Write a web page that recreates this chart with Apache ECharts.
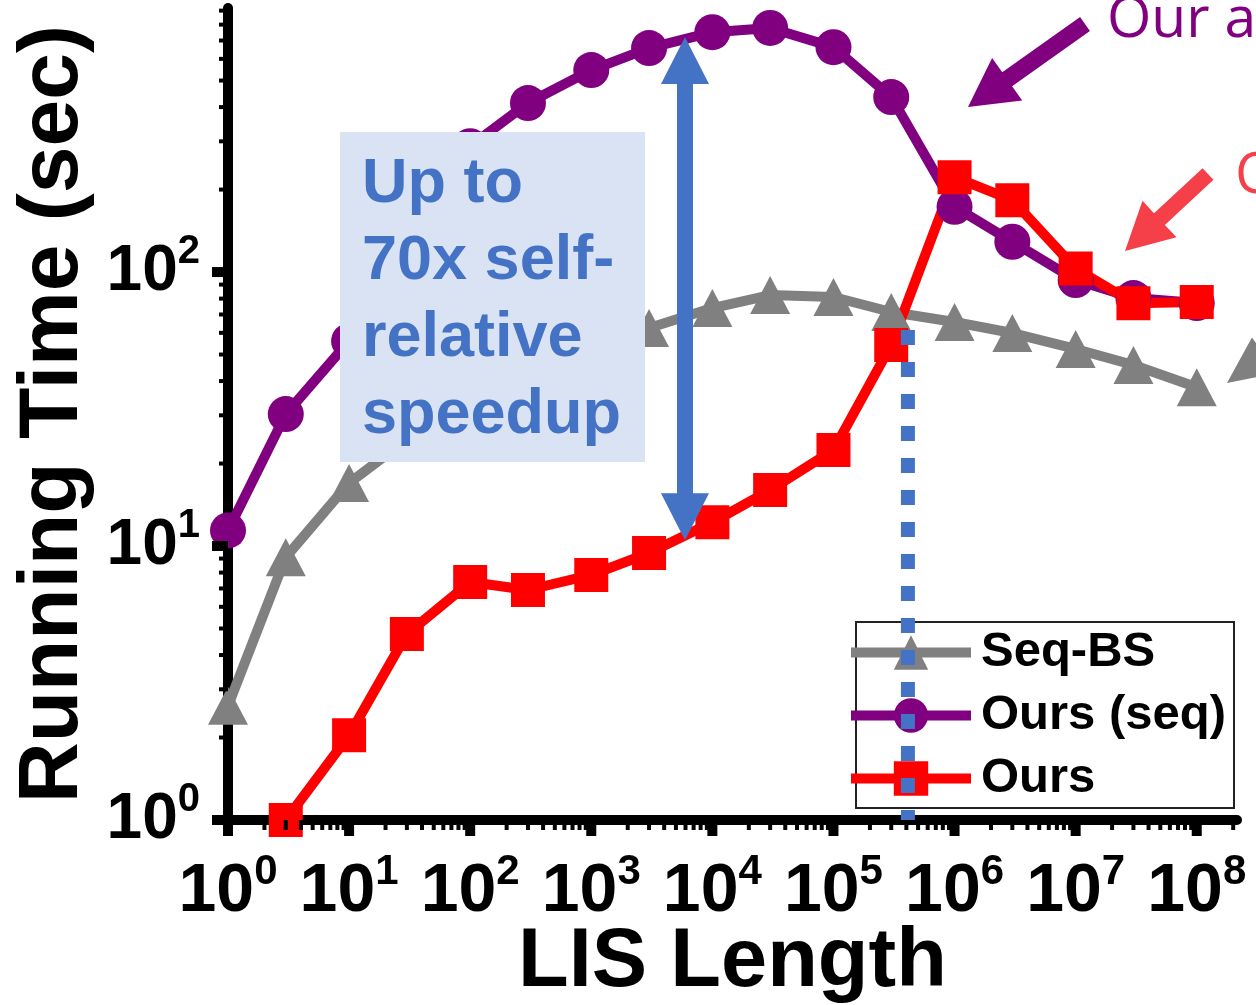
<!DOCTYPE html>
<html><head><meta charset="utf-8">
<script src="https://cdn.jsdelivr.net/npm/echarts@6/dist/echarts.min.js"></script>
<style>html,body{margin:0;padding:0;background:#fff}#chart{width:1256px;height:1005px}</style>
</head><body><div id="chart"></div>
<script>
// ---------------- data ----------------
const lisLength = [1, 3, 10, 30, 100, 300, 1e3, 3e3, 1e4, 3e4, 1e5, 3e5, 1e6, 3e6, 1e7, 3e7, 1e8];
const seqBS   = [2.61, 9.1, 17.0, 24.5, 31, 41, 52, 62.5, 73.9, 82.4, 81.1, 71.5, 65.7, 59.9, 52.4, 45.8, 38.0];
const oursSeq = [11.4, 30.3, 56, 141, 288, 414, 546, 657, 751, 778, 662, 435, 173, 129, 93.5, 80.4, 77.1];
const ours    = [null, 1.0, 2.04, 4.77, 7.39, 6.91, 7.84, 9.43, 12.2, 16.0, 22.4, 54.2, 222, 183, 103, 77, 77.8];
const seriesNames = ['Seq-BS', 'Ours (seq)', 'Ours'];
const xMajorTicks = [1, 10, 100, 1e3, 1e4, 1e5, 1e6, 1e7, 1e8];
const yMajorTicks = [1, 10, 100];
const xRange = [1, 2.15e8];
const yRange = [1, 920];
const speedupArrowX = 5940;
const speedupArrowRange = [10.5, 721];
const crossoverX = 412000;
const crossoverRange = [61.4, 1];
const boxText = 'Up to\n70x self-\nrelative\nspeedup';
const calloutPurple = 'Our a';
const calloutRed = 'O';
const xAxisTitle = 'LIS Length';
const yAxisTitle = 'Running Time (sec)';

// ---------------- helpers ----------------
function minorOf(majors, max) {
  const out = [];
  majors.forEach(d => { for (let m = 2; m <= 9; m++) { if (d * m <= max) out.push(d * m); } });
  return out;
}
const xMinorTicks = minorOf(xMajorTicks, xRange[1]);
const yMinorTicks = minorOf(yMajorTicks, yRange[1]);

function powLabel(v) {
  const l = Math.log10(v), e = Math.round(l);
  if (Math.abs(l - e) > 1e-6) return '';
  return '{b|10}{s|' + e + '}';
}
function arrowPts(tail, tip, sw, hl, hw) {
  const dx = tip[0] - tail[0], dy = tip[1] - tail[1], L = Math.hypot(dx, dy);
  const ux = dx / L, uy = dy / L, nx = -uy, ny = ux;
  const bx = tip[0] - ux * hl, by = tip[1] - uy * hl;
  return [
    [tail[0] + nx * sw / 2, tail[1] + ny * sw / 2],
    [bx + nx * sw / 2, by + ny * sw / 2],
    [bx + nx * hw / 2, by + ny * hw / 2],
    tip,
    [bx - nx * hw / 2, by - ny * hw / 2],
    [bx - nx * sw / 2, by - ny * sw / 2],
    [tail[0] - nx * sw / 2, tail[1] - ny * sw / 2]
  ];
}

const FONT = '"Liberation Sans", Arial, sans-serif';
const tickData = []
  .concat(yMajorTicks.map(v => [xRange[0], v, 0]))
  .concat(yMinorTicks.map(v => [xRange[0], v, 1]))
  .concat(xMajorTicks.map(v => [v, yRange[0], 2]))
  .concat(xMinorTicks.map(v => [v, yRange[0], 3]));

const chart = echarts.init(document.getElementById('chart'), null, { renderer: 'canvas' });

const option = {
  animation: false,
  backgroundColor: '#fff',
  grid: { left: 228, top: 8, right: 19, bottom: 185, containLabel: false, outerBoundsMode: 'none' },
  xAxis: {
    type: 'log', logBase: 10, min: xRange[0], max: xRange[1],
    axisLine: { onZero: false, lineStyle: { color: '#000', width: 10 } },
    axisTick: { show: false }, minorTick: { show: false }, splitLine: { show: false },
    axisLabel: {
      margin: 31, formatter: powLabel, color: '#000',
      rich: {
        b: { fontSize: 68, fontWeight: 'bold', fontFamily: FONT, color: '#000', lineHeight: 82 },
        s: { fontSize: 42, fontWeight: 'bold', fontFamily: FONT, color: '#000', lineHeight: 42, verticalAlign: 'top' }
      }
    },
    name: xAxisTitle, nameLocation: 'middle', nameGap: 102, nameMoveOverlap: false,
    nameTextStyle: { fontSize: 83, fontWeight: 'bold', fontFamily: FONT, color: '#000', lineHeight: 83 }
  },
  yAxis: {
    type: 'log', logBase: 10, min: yRange[0], max: yRange[1],
    axisLine: { onZero: false, lineStyle: { color: '#000', width: 10 } },
    axisTick: { show: false }, minorTick: { show: false }, splitLine: { show: false },
    axisLabel: {
      margin: 28, formatter: powLabel, color: '#000',
      rich: {
        b: { fontSize: 64, fontWeight: 'bold', fontFamily: FONT, color: '#000', lineHeight: 80 },
        s: { fontSize: 40, fontWeight: 'bold', fontFamily: FONT, color: '#000', lineHeight: 40, verticalAlign: 'top' }
      }
    },
    name: yAxisTitle, nameLocation: 'middle', nameGap: 132, nameMoveOverlap: false,
    nameTextStyle: { fontSize: 84, fontWeight: 'bold', fontFamily: FONT, color: '#000', lineHeight: 84 }
  },
  legend: {
    data: seriesNames, orient: 'vertical', left: 846, top: 628, padding: 0,
    itemWidth: 120, itemHeight: 43, itemGap: 14, selectedMode: false,
    lineStyle: { width: 10 },
    textStyle: { fontSize: 49, fontWeight: 'bold', fontFamily: FONT, color: '#000', lineHeight: 48, padding: [0, 0, 0, 5] },
    z: 4
  },
  graphic: [
    { type: 'rect', z: 3, shape: { x: 856, y: 622, width: 378, height: 186 },
      style: { fill: 'transparent', stroke: '#222', lineWidth: 2 } },
    { type: 'rect', z: 5, shape: { x: 340, y: 132, width: 305, height: 330 }, style: { fill: '#DAE3F3' } },
    { type: 'text', z: 6, left: 362, top: 146,
      style: { text: boxText, fill: '#4472C4', fontSize: 63, fontWeight: 'bold', fontFamily: FONT, lineHeight: 77 } },
    { type: 'polygon', z: 5, shape: { points: arrowPts([1085, 24], [968, 107], 17, 48, 52) }, style: { fill: '#800080' } },
    { type: 'polygon', z: 5, shape: { points: arrowPts([1208, 174], [1125, 251], 16, 47, 50) }, style: { fill: '#F5404A' } },
    { type: 'polygon', z: 5, shape: { points: arrowPts([1324, 312], [1227, 383], 16, 47, 44) }, style: { fill: '#808080' } },
    { type: 'text', z: 6, x: 1107, y: 21,
      style: { text: calloutPurple, fill: '#800080', fontSize: 57, fontFamily: '"Open Sans", sans-serif', verticalAlign: 'middle', align: 'left' } },
    { type: 'text', z: 6, x: 1235, y: 177,
      style: { text: calloutRed, fill: '#F5404A', fontSize: 57, fontFamily: '"Open Sans", sans-serif', verticalAlign: 'middle', align: 'left' } }
  ],
  series: [
    {
      name: seriesNames[0], type: 'line', z: 2,
      data: lisLength.map((x, i) => [x, seqBS[i]]),
      symbol: 'triangle', symbolSize: [40, 38],
      lineStyle: { color: '#808080', width: 10 },
      itemStyle: { color: '#808080', borderWidth: 0 }
    },
    {
      name: seriesNames[1], type: 'line', z: 2,
      data: lisLength.map((x, i) => [x, oursSeq[i]]),
      symbol: 'circle', symbolSize: 36,
      lineStyle: { color: '#800080', width: 10 },
      itemStyle: { color: '#800080', borderWidth: 0 }
    },
    {
      name: seriesNames[2], type: 'line', z: 2,
      data: lisLength.map((x, i) => [x, ours[i]]),
      symbol: 'rect', symbolSize: 34, connectNulls: false,
      lineStyle: { color: '#FF0000', width: 10 },
      itemStyle: { color: '#FF0000', borderWidth: 0 }
    },
    {
      name: 'crossover', type: 'line', z: 10, silent: true,
      data: [[crossoverX, crossoverRange[0]], [crossoverX, crossoverRange[1]]],
      symbol: 'none',
      lineStyle: { color: '#4472C4', width: 14, type: [15, 17], cap: 'butt' }
    },
    {
      name: 'speedup', type: 'custom', z: 10, silent: true,
      data: [[speedupArrowX, speedupArrowRange[0], speedupArrowRange[1]]],
      encode: { x: 0, y: [1, 2] },
      renderItem: function (params, api) {
        const top = api.coord([api.value(0), api.value(2)]);
        const bot = api.coord([api.value(0), api.value(1)]);
        const x = top[0], t = top[1], b = bot[1];
        const sw = 8, hw = 24, hl = 47;
        return { type: 'polygon', shape: { points: [[x, t], [x + hw, t + hl], [x + sw, t + hl], [x + sw, b - hl], [x + hw, b - hl], [x, b], [x - hw, b - hl], [x - sw, b - hl], [x - sw, t + hl], [x - hw, t + hl]] },
          style: { fill: '#4472C4' } };
      }
    },
    {
      name: 'ticks', type: 'custom', z: 3, silent: true, clip: false,
      data: tickData,
      encode: { x: 0, y: 1 },
      renderItem: function (params, api) {
        const kind = api.value(2);
        if (kind === 0 || kind === 1) {
          const p = api.coord([xRange[0], api.value(1)]);
          const len = kind === 0 ? 16 : 9, th = kind === 0 ? 10 : 4;
          return { type: 'rect', shape: { x: p[0] - len, y: p[1] - th / 2, width: len, height: th }, style: { fill: '#000' } };
        }
        const p = api.coord([api.value(0), yRange[0]]);
        const len = kind === 2 ? 16 : 10, th = kind === 2 ? 10 : 4;
        return { type: 'rect', shape: { x: p[0] - th / 2, y: p[1], width: th, height: len }, style: { fill: '#000' } };
      }
    }
  ]
};
chart.setOption(option);
</script></body></html>
